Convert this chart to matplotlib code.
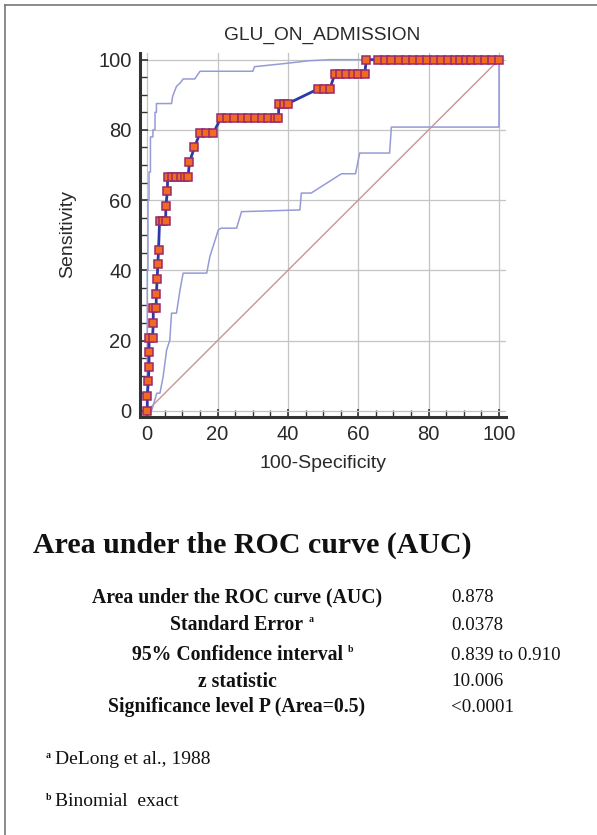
import matplotlib
matplotlib.use("Agg")
import matplotlib.pyplot as plt
from matplotlib.lines import Line2D
from matplotlib.ticker import MultipleLocator

# ---------------- data ----------------
title = "GLU_ON_ADMISSION"
x_label = "100-Specificity"
y_label = "Sensitivity"
ticks = [0, 20, 40, 60, 80, 100]

roc_fpr = [0, 0, 0.3, 0.5, 0.5, 0.5, 1.5, 1.7, 1.7, 2.5, 2.6, 2.8, 3.0, 3.2,
           3.5, 4.4, 5.2, 5.3, 5.7,
           5.8, 7.0, 8.3, 9.5, 10.6, 11.6, 12.0, 13.4, 15.0, 16.8, 18.8,
           20.9, 22.7, 24.6, 26.8, 28.7, 30.6, 32.5, 34.4, 36.3, 37.3,
           37.4, 38.8, 40.0, 48.6, 50.2, 51.9,
           53.3, 54.9, 56.6, 58.4, 60.0, 61.8,
           62.3, 65.5, 67.5, 69.3, 71.5, 73.5, 75.5, 77.5, 79.5, 81.5, 83.5,
           85.5, 87.5, 89.0, 90.5, 92.0, 94.0, 96.0, 98.0, 100.0]
roc_sens = [0, 4.17, 8.33, 12.5, 16.67, 20.83, 20.83, 25.0, 29.17, 29.17, 33.33,
            37.5, 41.67, 45.83,
            54.17, 54.17, 54.17, 58.33, 62.5,
            66.67, 66.67, 66.67, 66.67, 66.67, 66.67, 70.83, 75.0, 79.17, 79.17, 79.17,
            83.33, 83.33, 83.33, 83.33, 83.33, 83.33, 83.33, 83.33, 83.33, 83.33,
            87.5, 87.5, 87.5, 91.67, 91.67, 91.67,
            95.83, 95.83, 95.83, 95.83, 95.83, 95.83,
            100, 100, 100, 100, 100, 100, 100, 100, 100, 100, 100,
            100, 100, 100, 100, 100, 100, 100, 100, 100]

upper_x = [0, 0, 0.2, 0.2, 0.5, 0.5, 0.9, 0.9, 1.6, 1.6, 2.2, 2.2, 2.6, 2.6, 6.9,
           7.2, 8.3, 9.3, 10.2, 13.5, 15.0, 30.0, 30.5, 40.0, 46.0, 52.0, 100]
upper_y = [0, 40, 40, 60, 60, 68, 68, 78, 78, 80, 80, 85, 85, 87.5, 87.5,
           89.5, 92.4, 93.3, 94.5, 94.5, 96.7, 96.7, 98.0, 99.0, 99.7, 100, 100]

lower_x = [0, 1.3, 2.7, 3.6, 4.5, 5.5, 6.4, 6.9, 8.3, 9.3, 10.2, 16.9, 17.8, 20.2,
           21.0, 25.4, 26.8, 43.4, 43.8, 46.6, 55.2, 59.2, 60.4, 68.9, 69.4, 100, 100]
lower_y = [0, 0.2, 5.0, 5.0, 9.7, 17.3, 20.1, 27.8, 27.8, 34.4, 39.2, 39.2, 43.9, 51.5,
           52.0, 52.0, 56.7, 57.2, 62.0, 62.0, 67.5, 67.5, 73.4, 73.4, 80.8, 80.8, 100]

diag = [0, 100]

heading = "Area under the ROC curve (AUC)"
stat_labels = ["Area under the ROC curve (AUC)", "Standard Error", "95% Confidence interval",
               "z statistic", "Significance level P (Area=0.5)"]
stat_marks = ["", "a", "b", "", ""]
stat_values = ["0.878", "0.0378", "0.839 to 0.910", "10.006", "<0.0001"]
footnote_marks = ["a", "b"]
footnotes = ["DeLong et al., 1988", "Binomial  exact"]

# ---------------- figure ----------------
W, H = 597, 835
fig = plt.figure(figsize=(W / 100, H / 100), dpi=100)
fig.patch.set_facecolor("white")

def fx(px):
    return px / W

def fy(py):
    return 1 - py / H

ax = fig.add_axes([fx(140), fy(416.7), fx(506) - fx(140), fy(53) - fy(416.7)])
ax.set_xlim(-2.07, 102)
ax.set_ylim(-1.7, 101.9)

ax.plot(diag, diag, color="#c99494", lw=1.0, zorder=2)
ax.plot(upper_x, upper_y, color="#959bd6", lw=1.1, zorder=3)
ax.plot(lower_x, lower_y, color="#959bd6", lw=1.1, zorder=3)
ax.plot(roc_fpr, roc_sens, color="#2a3aa6", lw=2.0, zorder=4,
        marker="s", markersize=5.8, markerfacecolor="#f26a22",
        markeredgecolor="#9a2a6a", markeredgewidth=1.1)

ax.set_xticks(ticks)
ax.set_yticks(ticks)
ax.xaxis.set_minor_locator(MultipleLocator(5))
ax.yaxis.set_minor_locator(MultipleLocator(5))
ax.grid(True, which="major", color="#c4c4c4", lw=0.9)
ax.set_axisbelow(True)
for s in ["top", "right"]:
    ax.spines[s].set_visible(False)
for s in ["left", "bottom"]:
    ax.spines[s].set_color("#333333")
    ax.spines[s].set_linewidth(2.2)
ax.tick_params(which="major", direction="in", length=6, width=1.2, color="#333333",
               labelsize=14.5, labelcolor="#2a2a2a", pad=6)
ax.tick_params(which="minor", direction="in", length=5, width=1.0, color="#333333")
for lab in ax.get_xticklabels() + ax.get_yticklabels():
    lab.set_family("Liberation Sans")

fig.text(fx(322.5), fy(35), title, ha="center", va="center", fontsize=13.8,
         family="Liberation Sans", color="#2a2a2a")
fig.text(fx(68), fy(234), y_label, ha="center", va="center", rotation=90,
         fontsize=14, family="Liberation Sans", color="#2a2a2a")
fig.text(fx(323), fy(463), x_label, ha="center", va="center", fontsize=14,
         family="Liberation Sans", color="#2a2a2a")

# ---------------- lower text ----------------
serif = ["Liberation Serif", "DejaVu Serif"]
fig.text(fx(33), fy(545), heading, ha="left", va="center", fontsize=21.5,
         family=serif, weight="bold", color="#111111")

row_y = [597, 625, 655, 682, 707]
label_texts = []
for lbl, yy in zip(stat_labels, row_y):
    t = fig.text(fx(237), fy(yy), lbl, ha="center", va="center", fontsize=14.2,
                 family=serif, weight="bold", color="#111111")
    label_texts.append(t)
for val, yy in zip(stat_values, row_y):
    fig.text(fx(451), fy(yy), val, ha="left", va="center", fontsize=13.6,
             family=serif, color="#111111")

fig.canvas.draw()
renderer = fig.canvas.get_renderer()
for t, mk, yy in zip(label_texts, stat_marks, row_y):
    if mk:
        bb = t.get_window_extent(renderer)
        fig.text((bb.x1 + 5) / W, fy(yy - 5), mk, ha="left", va="center",
                 fontsize=7, family=serif, weight="bold", color="#111111")

foot_y = [760, 802]
for mk, txt, yy in zip(footnote_marks, footnotes, foot_y):
    fig.text(fx(46), fy(yy - 4), mk, ha="left", va="center", fontsize=7,
             family=serif, weight="bold", color="#111111")
    fig.text(fx(55), fy(yy), txt, ha="left", va="center", fontsize=14,
             family=serif, color="#111111")

# page frame (left and top edges)
fig.add_artist(Line2D([fx(5), fx(5)], [fy(5), 0], transform=fig.transFigure,
                      color="#777777", lw=1.2))
fig.add_artist(Line2D([fx(5), 1], [fy(5), fy(5)], transform=fig.transFigure,
                      color="#777777", lw=1.2))

fig.savefig("out.png", dpi=100, facecolor="white")
